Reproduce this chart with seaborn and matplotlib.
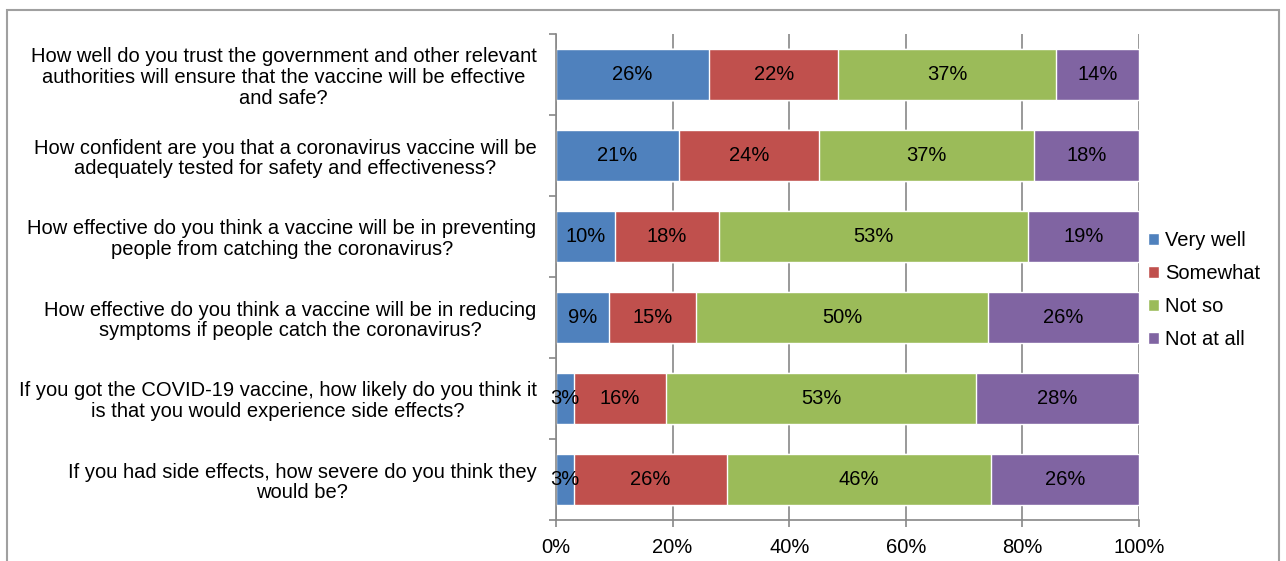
import numpy as np
import pandas as pd
import matplotlib
matplotlib.use("Agg")
import matplotlib.pyplot as plt
from matplotlib.patches import Rectangle
from matplotlib.ticker import FixedLocator
import seaborn as sns

questions = [
    "How well do you trust the government and other relevant\nauthorities will ensure that the vaccine will be effective\nand safe?",
    "How confident are you that a coronavirus vaccine will be\nadequately tested for safety and effectiveness?",
    "How effective do you think a vaccine will be in preventing\npeople from catching the coronavirus?",
    "How effective do you think a vaccine will be in reducing\nsymptoms if people catch the coronavirus?",
    "If you got the COVID-19 vaccine, how likely do you think it\nis that you would experience side effects?",
    "If you had side effects, how severe do you think they\nwould be?",
]
answers = ["Very well", "Somewhat", "Not so", "Not at all"]
very_well = [26.3, 21.1, 10.1, 9.1, 3.1, 3.1]
somewhat = [22.1, 24.0, 17.9, 14.9, 15.8, 26.4]
not_so = [37.4, 36.9, 53.0, 50.1, 53.1, 45.6]
not_at_all = [14.2, 18.0, 19.0, 25.9, 28.0, 25.6]
colors = ["#4F81BD", "#C0504D", "#9BBB59", "#8064A2"]
x_ticks = [0, 20, 40, 60, 80, 100]

raw = pd.DataFrame({"q": questions, "Very well": very_well, "Somewhat": somewhat,
                    "Not so": not_so, "Not at all": not_at_all})
# 100% stacked: scale each row to its total
share = raw[answers].div(raw[answers].sum(axis=1), axis=0) * 100
ends = share.cumsum(axis=1)
ends["q"] = questions

sns.set_theme(style="white")
plt.rcParams["font.family"] = ["Liberation Sans", "DejaVu Sans"]
plt.rcParams["text.color"] = "black"
plt.rcParams["xtick.color"] = "black"
plt.rcParams["ytick.color"] = "black"
fs = 14.5

fig = plt.figure(figsize=(12.86, 5.61), dpi=100)
ax = fig.add_axes([556 / 1286, 1 - 520 / 561, (1139 - 556) / 1286, (520 - 34) / 561])

# draw back to front so each segment shows
for i in range(len(answers) - 1, -1, -1):
    sns.barplot(data=ends, x=answers[i], y="q", color=colors[i], width=0.63,
                saturation=1, orient="h", ax=ax, zorder=2, label=answers[i])

for r in range(len(questions)):
    left = 0
    for a in answers:
        w = share.loc[r, a]
        ax.text(left + w / 2, r, f"{round(raw.loc[r, a])}%", ha="center", va="center",
                fontsize=fs, color="black", zorder=3)
        left += w

ax.set_xlim(0, 100)
ax.set_ylim(len(questions) - 0.5, -0.5)
ax.set_xticks(x_ticks)
ax.set_xticklabels([f"{t}%" for t in x_ticks], fontsize=fs)
ax.set_xlabel("")
ax.set_ylabel("")
ax.set_yticks(range(len(questions)))
ax.set_yticklabels(questions, fontsize=fs, multialignment="center")
for lab in ax.get_yticklabels():
    lab.set_linespacing(1.12)
ax.yaxis.set_minor_locator(FixedLocator(np.arange(-0.5, len(questions), 1)))
ax.tick_params(axis="y", which="major", length=0, pad=14)
ax.tick_params(axis="y", which="minor", length=5, width=1.2, color="#888888", left=True)
ax.tick_params(axis="x", length=5, width=1.2, color="#888888", labelcolor="black",
               bottom=True, pad=8)
ax.grid(axis="x", color="#888888", linewidth=1.2, zorder=0)
ax.grid(axis="y", visible=False)
ax.set_axisbelow(True)
for s in ["top", "right"]:
    ax.spines[s].set_visible(False)
for s in ["left", "bottom"]:
    ax.spines[s].set_color("#888888")
    ax.spines[s].set_linewidth(1.2)

handles, labels = ax.get_legend_handles_labels()
order = [labels.index(a) for a in answers]
fig.legend([handles[k] for k in order], answers, loc="center left",
           bbox_to_anchor=(1130 / 1286, 1 - 290 / 561), frameon=False, fontsize=fs,
           handlelength=0.55, handleheight=0.55, handletextpad=0.3, labelspacing=0.7)
if ax.get_legend() is not None:
    ax.get_legend().remove()

fig.patches.append(Rectangle((7 / 1286, -0.05), (1279 - 7) / 1286, 1.05 - 10 / 561,
                             transform=fig.transFigure, fill=False,
                             edgecolor="#A0A0A0", linewidth=1.5))

fig.savefig("out.png", dpi=100)
